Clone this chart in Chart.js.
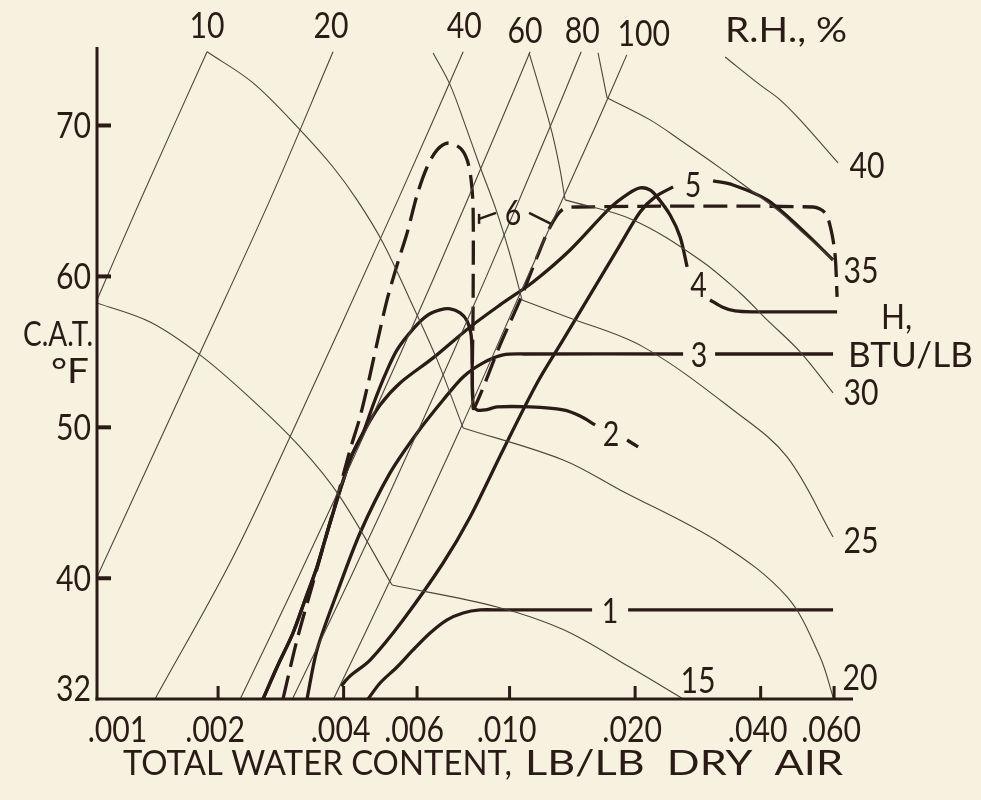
<!DOCTYPE html>
<html>
<head>
<meta charset="utf-8">
<script src="https://cdn.jsdelivr.net/npm/chart.js@4.4.1/dist/chart.umd.min.js"></script>
<style>
  html, body { margin: 0; padding: 0; background: #f7f2df; }
  canvas { display: block; }
</style>
</head>
<body>
<canvas id="chart" width="981" height="800"></canvas>
<script>
// ---- Axis ticks ----
const xTickValues = [0.001, 0.002, 0.004, 0.006, 0.010, 0.020, 0.040, 0.060];
const xTickLabels = ['.001', '.002', '.004', '.006', '.010', '.020', '.040', '.060'];
const yTickValues = [32, 40, 50, 60, 70];

// ---- Relative humidity lines (water content lb/lb, temperature °F) ----
const rhLabels = ['10', '20', '40', '60', '80', '100'];
const rh10W = [0.001882, 0.00130, 0.001025];
const rh10T = [74.88, 65.0, 58.44];
const rh20W = [0.003773, 0.002664, 0.00181, 0.001025];
const rh20T = [74.88, 65.07, 54.93, 40.08];
const rh40W = [0.00774, 0.0054, 0.002878, 0.002136, 0.001412];
const rh40T = [74.88, 65.07, 48.5, 41.01, 32];
const rh60W = [0.0112, 0.009439, 0.006605, 0.004564, 0.003107, 0.00226];
const rh60T = [74.88, 70, 60, 50, 40, 32];
const rh80W = [0.01485, 0.012546, 0.008801, 0.006089, 0.004148, 0.003015];
const rh80T = [74.88, 70, 60, 50, 40, 32];
const rh100W = [0.0191, 0.0161, 0.01105, 0.00765, 0.0052, 0.003784];
const rh100T = [74.68, 70, 60, 50, 40, 32];

// ---- Enthalpy lines, BTU/lb (a = unsaturated part, b = beyond saturation) ----
const hLabels = ['15', '20', '25', '30', '35', '40'];
const h15aW = [0.001025, 0.001374, 0.00181, 0.002386, 0.003144, 0.003922, 0.005226];
const h15aT = [58.24, 56.98, 54.8, 51.95, 48.7, 45.39, 39.55];
const h15bW = [0.005226, 0.009334, 0.01344, 0.019454, 0.02607];
const h15bT = [39.55, 38.1, 36.6, 34.1, 32.0];
const h20aW = [0.001882, 0.002426, 0.003144, 0.003772, 0.004307, 0.004974, 0.005774, 0.006704, 0.00774];
const h20aT = [74.88, 72.82, 69.71, 67.25, 65.07, 62.22, 58.44, 54.47, 49.96];
const h20bW = [0.00774, 0.01344, 0.018408, 0.03197, 0.04628, 0.055527, 0.05966];
const h20bT = [49.96, 47.84, 45.85, 42.34, 38.76, 34.78, 32.13];
const h25aW = [0.006557, 0.007202, 0.007824, 0.0085, 0.009283, 0.010028, 0.010715];
const h25aT = [74.81, 72.69, 70.04, 67.25, 64.41, 61.42, 58.44];
const h25bW = [0.010715, 0.013739, 0.020902, 0.03512, 0.04628, 0.05966];
const h25bT = [58.44, 57.31, 55.33, 50.95, 48.04, 42.74];
const h30aW = [0.011137, 0.011835, 0.012646, 0.013217, 0.013586];
const h30aT = [74.81, 72.36, 69.51, 67.06, 65.07];
const h30bW = [0.013586, 0.019779, 0.028624, 0.035706, 0.041444, 0.049733, 0.05966];
const h30bT = [65.07, 63.74, 61.09, 58.9, 57.12, 55.0, 52.28];
const h35aW = [0.016301, 0.017132];
const h35aT = [74.81, 71.83];
const h35bW = [0.017132, 0.021722, 0.025639, 0.03197, 0.043799, 0.05113, 0.05966];
const h35bT = [71.83, 70.37, 69.04, 67.19, 64.41, 62.75, 61.09];
const h40W = [0.032869, 0.03987, 0.04453, 0.049733, 0.061337];
const h40T = [74.54, 72.69, 71.7, 70.37, 67.52];

// ---- Process curves 1-6 (null = break for the curve number) ----
const curve1W = [0.004578, 0.004892, 0.005373, 0.005871, 0.006449, 0.007083, 0.007738, 0.0085, 0.00949, 0.01577, null, 0.01924, 0.05966];
const curve1T = [32.0, 33.06, 34.12, 35.25, 36.37, 37.24, 37.7, 37.9, 37.9, 37.9, null, 37.9, 37.9];

// lower branch shared by curves 2 and 4
const branch24W = [0.002563, 0.002784, 0.003024, 0.003232, 0.003453, 0.00365, 0.003856, 0.004031, 0.00419, 0.004454];
const branch24T = [32.0, 34.25, 36.37, 38.56, 40.75, 43.0, 45.19, 46.84, 48.17, 49.63];

const curve2W = [0.004707, 0.005028, 0.005373, 0.005903, 0.006378, 0.006814, 0.007202, 0.007611, 0.007911, 0.008088, 0.008132, 0.008178, 0.008361, 0.008738, 0.009334, 0.011199, 0.013438, 0.014761, 0.016038, null, 0.019135, 0.020333];
const curve2T = [51.48, 53.47, 55.13, 56.59, 57.45, 57.78, 57.85, 57.58, 57.05, 56.12, 54.47, 51.48, 51.15, 51.15, 51.35, 51.35, 51.15, 50.75, 50.16, null, 49.16, 48.70];

const curve3W = [0.003268, 0.003453, 0.003856, 0.00438, 0.005169, 0.006002, 0.006928, 0.007738, 0.008642, 0.009647, 0.010895, 0.026067, null, 0.031101, 0.05966];
const curve3T = [32.0, 35.25, 39.02, 43.0, 46.98, 49.63, 51.81, 53.34, 54.27, 54.8, 54.86, 54.86, null, 54.86, 54.86];

const curve4W = [0.004892, 0.005463, 0.006557, 0.008043, 0.009489, 0.011386, 0.013968, 0.017418, 0.01924, 0.020559, 0.021722, 0.022579, 0.024261, 0.025639, 0.026651, null, 0.030251, 0.032325, 0.034735, 0.038356, 0.060997];
const curve4T = [51.48, 52.94, 54.6, 56.65, 58.11, 59.63, 61.75, 64.54, 65.47, 65.86, 65.73, 65.27, 64.07, 62.62, 60.63, null, 58.44, 57.98, 57.71, 57.65, 57.65];

const curve5W = [0.003944, 0.004144, 0.004629, 0.005554, 0.006928, 0.008043, 0.009647, 0.011641, 0.013438, 0.0156, 0.018408, 0.020559, 0.022333, 0.024666, null, 0.030756, 0.03435, 0.041444, 0.049733, 0.05966];
const curve5T = [32.86, 33.52, 34.58, 37.24, 41.01, 44.06, 48.5, 52.94, 55.79, 58.77, 62.09, 64.27, 65.27, 65.93, null, 66.33, 66.06, 65.07, 63.21, 61.09];

const curve6W = [0.002862, 0.003092, 0.003377, 0.00365, 0.003922, 0.004144, 0.00438, 0.004629, 0.004812, 0.005084, 0.005373, 0.005679, 0.006002, 0.006343, 0.006704, 0.007123, 0.007611, 0.007911, 0.008088, 0.008178, 0.008178, 0.008178, 0.0085, 0.009489, 0.010597, 0.011641, 0.012507, 0.013364, 0.014519, 0.053419, 0.057088, 0.059008, 0.060327, 0.060997];
const curve6T = [32, 35.91, 39.69, 43.0, 46.05, 48.5, 50.69, 53.47, 55.59, 58.44, 60.76, 62.88, 65.4, 67.25, 68.38, 68.84, 68.51, 67.72, 66.39, 64.41, 58.44, 51.28, 52.15, 55.46, 58.44, 61.29, 63.28, 64.41, 64.6, 64.6, 64.21, 63.08, 61.42, 58.64];

// ---- Styling ----
const INK = '#2a1b16';
const THIN = '#4d443d';
const PAPER = '#f7f2df';
const FONT = 'Lato, "Liberation Sans", "DejaVu Sans", sans-serif';
const NUM_SQUEEZE = 0.84;   // narrower figures for the numeric labels

function toPoints(W, T) {
  const out = [];
  let lastW = W[0];
  for (let i = 0; i < W.length; i++) {
    if (W[i] === null || T[i] === null) { out.push({ x: lastW, y: null }); continue; }
    lastW = W[i];
    out.push({ x: W[i], y: T[i] });
  }
  return out;
}
function thinSet(W, T, role) {
  return { data: toPoints(W, T), showLine: true, borderColor: THIN, borderWidth: 1.1,
           tension: 0.35, pointRadius: 0, fill: false, role: role };
}
function thickSet(W, T, role, dash) {
  return { data: toPoints(W, T), showLine: true, borderColor: INK, borderWidth: 3.3,
           borderDash: dash || [], tension: 0.3, pointRadius: 0, fill: false,
           borderCapStyle: 'butt', borderJoinStyle: 'round', role: role };
}

const datasets = [
  thinSet(rh10W, rh10T, 'rh0'), thinSet(rh20W, rh20T, 'rh1'), thinSet(rh40W, rh40T, 'rh2'),
  thinSet(rh60W, rh60T, 'rh3'), thinSet(rh80W, rh80T, 'rh4'), thinSet(rh100W, rh100T, 'rh5'),
  thinSet(h15aW, h15aT), thinSet(h15bW, h15bT, 'h0'),
  thinSet(h20aW, h20aT), thinSet(h20bW, h20bT, 'h1'),
  thinSet(h25aW, h25aT), thinSet(h25bW, h25bT, 'h2'),
  thinSet(h30aW, h30aT), thinSet(h30bW, h30bT, 'h3'),
  thinSet(h35aW, h35aT), thinSet(h35bW, h35bT, 'h4'),
  thinSet(h40W, h40T, 'h5'),
  thickSet(curve1W, curve1T, 'c1'),
  thickSet(branch24W.concat(curve2W), branch24T.concat(curve2T), 'c2'),
  thickSet(curve3W, curve3T, 'c3'),
  thickSet(branch24W.concat(curve4W), branch24T.concat(curve4T), 'c4'),
  thickSet(curve5W, curve5T, 'c5'),
  thickSet(curve6W, curve6T, 'c6', [24, 9])
];

// text drawn with its visual centre at y; width either fitted or squeezed
function drawText(ctx, s, x, y, size, align, fit) {
  ctx.save();
  ctx.font = size + 'px ' + FONT;
  ctx.textAlign = 'left';
  ctx.textBaseline = 'alphabetic';
  ctx.fillStyle = INK;
  const m = ctx.measureText(s).width;
  let sx = 1;
  if (fit && fit.width) sx = fit.width / m;
  else if (fit && fit.squeeze) sx = fit.squeeze;
  const w = m * sx;
  const left = align === 'center' ? x - w / 2 : (align === 'right' ? x - w : x);
  ctx.translate(left, y + size * 0.36);
  ctx.scale(sx, 1);
  ctx.fillText(s, 0, 0);
  ctx.restore();
}
function num(ctx, s, x, y, size, align) {
  drawText(ctx, s, x, y, size, align, { squeeze: NUM_SQUEEZE });
}
function stroke(ctx, x1, y1, x2, y2, width) {
  ctx.save();
  ctx.strokeStyle = INK;
  ctx.lineWidth = width;
  ctx.lineCap = 'butt';
  ctx.beginPath();
  ctx.moveTo(x1, y1);
  ctx.lineTo(x2, y2);
  ctx.stroke();
  ctx.restore();
}

const chartDecor = {
  id: 'chartDecor',
  beforeDraw(chart) {
    const ctx = chart.ctx;
    ctx.save();
    ctx.fillStyle = PAPER;
    ctx.fillRect(0, 0, chart.width, chart.height);
    ctx.restore();
  },
  afterDatasetsDraw(chart) {
    const ctx = chart.ctx;
    const xs = chart.scales.x, ys = chart.scales.y;
    const a = chart.chartArea;
    const px = v => xs.getPixelForValue(v);
    const py = v => ys.getPixelForValue(v);

    // axis lines
    stroke(ctx, a.left, a.top, a.left, a.bottom + 1.5, 3);
    stroke(ctx, a.left - 1.5, a.bottom, a.right, a.bottom, 3);

    // x ticks (inside) and labels
    xTickValues.forEach((v, i) => {
      const x = px(v);
      if (i > 0) stroke(ctx, x, a.bottom, x, a.bottom - 13, 3);
      const shift = i === 0 ? 25 : -3;
      num(ctx, xTickLabels[i], x + shift, a.bottom + 30, 36, 'center');
    });
    // y ticks (inside) and labels
    yTickValues.forEach(v => {
      const y = py(v);
      if (v > 32) stroke(ctx, a.left, y, a.left + 14, y, 4);
      num(ctx, String(v), a.left - 6, v === 32 ? y - 11 : y, 36, 'right');
    });

    // axis titles
    drawText(ctx, 'TOTAL WATER CONTENT,', 123, a.bottom + 63, 35, 'left', { width: 389 });
    drawText(ctx, 'LB/LB  DRY  AIR', 525, a.bottom + 63, 35, 'left', { width: 318 });
    drawText(ctx, 'C.A.T.', 58, 334, 34, 'center', { width: 70 });
    drawText(ctx, '°F', 70, 371, 34, 'center', { width: 38 });

    // labels tied to the lines: R.H. above line tops, H at line ends, curve numbers in their breaks
    const rhShift = [[0, -27], [-2, -27], [1, -27], [-5, -22], [1, -22], [17, -22]];
    const hShift = [[15, -19], [27, -20], [28, 3], [28, -1], [28, 10], [29, 2]];
    chart.data.datasets.forEach(ds => {
      if (!ds.role) return;
      if (ds.role.startsWith('rh')) {
        const i = +ds.role.slice(2);
        const p = ds.data[0];
        num(ctx, rhLabels[i], px(p.x) + rhShift[i][0], py(p.y) + rhShift[i][1], 36, 'center');
      } else if (ds.role.startsWith('h')) {
        const i = +ds.role.slice(1);
        const p = ds.data[ds.data.length - 1];
        num(ctx, hLabels[i], px(p.x) + hShift[i][0], py(p.y) + hShift[i][1], 36, 'center');
      } else if (ds.role.startsWith('c') && ds.role !== 'c6') {
        const k = ds.data.findIndex(p => p.y === null);
        const p0 = ds.data[k - 1], p1 = ds.data[k + 1];
        const cx = (px(p0.x) + px(p1.x)) / 2, cy = (py(p0.y) + py(p1.y)) / 2;
        num(ctx, ds.role.slice(1), cx, cy + 1, 34, 'center');
      }
    });
    drawText(ctx, 'R.H., %', a.right - 67, a.top - 17, 34, 'center', { width: 122 });
    drawText(ctx, 'H,', a.right + 28, a.top + 269, 35, 'left', { squeeze: 0.9 });
    drawText(ctx, 'BTU/LB', a.right - 5, a.top + 308, 34, 'left', { width: 125 });

    // label 6 with its two leaders
    const l6x = px(0.010195), l6y = py(64.21);
    num(ctx, '6', l6x, l6y, 34, 'center');
    stroke(ctx, l6x - 17, l6y, l6x - 34, l6y + 6, 2.5);
    stroke(ctx, l6x - 34, l6y + 1, l6x - 34, l6y + 11, 2.5);
    stroke(ctx, l6x + 16, l6y, l6x + 38, l6y + 11, 2.5);
  }
};

new Chart(document.getElementById('chart'), {
  type: 'scatter',
  data: { datasets: datasets },
  options: {
    responsive: false,
    animation: false,
    devicePixelRatio: 1,
    layout: { padding: { left: 97, top: 47, right: 128, bottom: 101 } },
    scales: {
      x: { type: 'logarithmic', min: 0.001025, max: 0.0666, display: false },
      y: { type: 'linear', min: 32, max: 75.2, display: false }
    },
    plugins: { legend: { display: false }, tooltip: { enabled: false } },
    elements: { point: { radius: 0, hoverRadius: 0 } }
  },
  plugins: [chartDecor]
});
</script>
</body>
</html>
